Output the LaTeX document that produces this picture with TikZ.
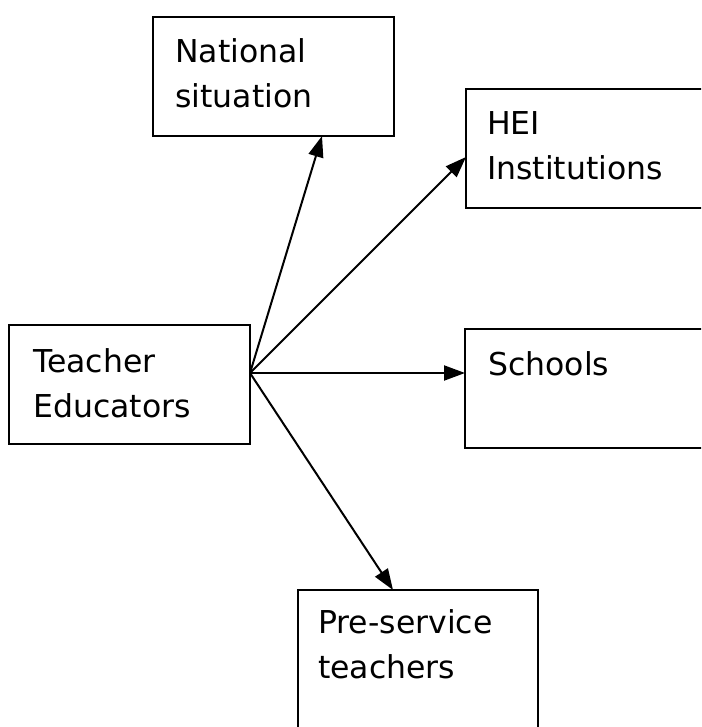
\documentclass[tikz,border=0pt]{standalone}
\usepackage{fontspec}
\setmainfont{DejaVu Sans}
\usetikzlibrary{arrows.meta}
\begin{document}
\begin{tikzpicture}[x=1pt,y=-1pt,
  box/.style={draw=black,line width=2.6pt,anchor=north west,inner sep=0pt,outer sep=0pt},
  lbl/.style={anchor=base west,inner sep=0pt,font=\fontsize{31.5}{45}\selectfont},
  link/.style={line width=2pt,-{Triangle[length=21pt,width=15pt]}}]
  \clip (0,0) rectangle (701,727);
  \useasboundingbox (0,0) rectangle (701,727);
  % boxes
  \node[box,minimum width=241pt,minimum height=119pt] (nat) at (153,17) {};
  \node[box,minimum width=300pt,minimum height=119pt] (hei) at (466,89) {};
  \node[box,minimum width=241pt,minimum height=119pt] (te)  at (9,325) {};
  \node[box,minimum width=300pt,minimum height=119pt] (sch) at (465,329) {};
  \node[box,minimum width=240pt,minimum height=200pt] (pre) at (298,590) {};
  % labels
  \node[lbl] (natA) at (175,63) {National};
  \node[lbl] (natB) at (175,108) {situation};
  \node[lbl] (heiA) at (487,135) {HEI};
  \node[lbl] (heiB) at (487,180) {Institutions};
  \node[lbl] (teA) at (33,372) {Teacher};
  \node[lbl] (teB) at (33,417) {Educators};
  \node[lbl] (schA) at (488,375) {Schools};
  \node[lbl] (preA) at (318,633) {Pre-service};
  \node[lbl] (preB) at (318,678) {teachers};
  % connectors from the right side of the Teacher Educators box
  \coordinate (src) at ([yshift=11.5pt]te.east);
  \draw[link] (src) -- ([xshift=169pt]nat.south west);
  \draw[link] (src) -- ([yshift=-68pt]hei.north west);
  \draw[link] (src) -- ([yshift=-44pt]sch.north west);
  \draw[link] (src) -- ([xshift=95pt]pre.north west);
\end{tikzpicture}
\end{document}
